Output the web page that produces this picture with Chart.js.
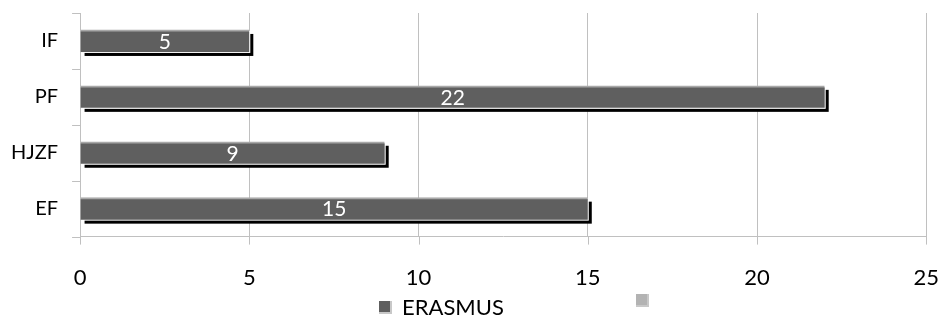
<!DOCTYPE html>
<html>
<head>
<meta charset="utf-8">
<script src="https://cdn.jsdelivr.net/npm/chart.js@4/dist/chart.umd.min.js"></script>
<style>
  body { margin: 0; background: #fff; }
  #wrap { position: relative; width: 939px; height: 319px; }
  #legend { position: absolute; left: 0; top: 294px; width: 939px; font-family: Lato, sans-serif; font-size: 22px; line-height: 26px; color: #000; }
  .item { position: absolute; top: 0; display: flex; align-items: center; }
  .box { width: 11px; height: 11px; margin-right: 10px; border-right: 2px solid #c8c8c8; border-bottom: 2px solid #c8c8c8; }
</style>
</head>
<body>
<div id="wrap">
  <canvas id="chart" width="939" height="319"></canvas>
  <div id="legend"></div>
</div>
<script>
// Données du graphique
const categories = ['IF', 'PF', 'HJZF', 'EF'];
const erasmusValues = [5, 22, 9, 15];
const secondValues = [];
const seriesLabels = ['ERASMUS', ''];
const seriesColors = ['#5f5f5f', '#b3b3b3'];
const xTicks = [0, 5, 10, 15, 20, 25];

const GRID = '#c0c0c0';

// Ombre noire décalée sous les barres (avec un liseré blanc)
const shadowPlugin = {
    id: 'barShadow',
    beforeDatasetsDraw(chart) {
        const ctx = chart.ctx;
        const meta = chart.getDatasetMeta(0);
        ctx.save();
        meta.data.forEach(bar => {
            const left = Math.min(bar.base, bar.x);
            const w = Math.abs(bar.x - bar.base);
            const top = bar.y - bar.height / 2;
            ctx.fillStyle = '#000';
            ctx.fillRect(left + 4, top + 4, w, bar.height);
            ctx.fillStyle = '#fff';
            ctx.fillRect(left + 1, top + 1, w, bar.height);
        });
        ctx.restore();
    }
};

// Petites graduations (8 px) sur les deux axes
const tickMarksPlugin = {
    id: 'tickMarks',
    afterDraw(chart) {
        const ctx = chart.ctx;
        const xs = chart.scales.x;
        const ys = chart.scales.y;
        const area = chart.chartArea;
        ctx.save();
        ctx.strokeStyle = GRID;
        ctx.lineWidth = 1;
        ctx.beginPath();
        xTicks.forEach(v => {
            const px = Math.round(xs.getPixelForValue(v)) + 0.5;
            ctx.moveTo(px, area.bottom);
            ctx.lineTo(px, area.bottom + 8);
        });
        for (let i = 0; i <= categories.length; i++) {
            const py = Math.round(ys.getPixelForValue(i - 0.5)) + 0.5;
            ctx.moveTo(area.left - 8, py);
            ctx.lineTo(area.left, py);
        }
        ctx.stroke();
        ctx.restore();
    }
};

// Valeurs affichées au centre des barres
const labelPlugin = {
    id: 'barLabels',
    afterDatasetsDraw(chart) {
        const ctx = chart.ctx;
        const meta = chart.getDatasetMeta(0);
        ctx.save();
        ctx.fillStyle = '#fff';
        ctx.font = '21px Lato, sans-serif';
        ctx.textAlign = 'center';
        ctx.textBaseline = 'middle';
        meta.data.forEach((bar, i) => {
            const x = (bar.x + bar.base) / 2;
            ctx.fillText(String(erasmusValues[i]), x, bar.y + 1);
        });
        ctx.restore();
    }
};

const chart = new Chart(document.getElementById('chart'), {
    type: 'bar',
    data: {
        labels: categories,
        datasets: [{
            label: seriesLabels[0],
            data: erasmusValues,
            backgroundColor: seriesColors[0],
            borderColor: '#a8a8a8',
            borderWidth: { top: 2, right: 0, bottom: 0, left: 0 },
            borderSkipped: false,
            barThickness: 22
        }, {
            label: seriesLabels[1],
            data: secondValues,
            backgroundColor: seriesColors[1],
            barThickness: 22
        }]
    },
    options: {
        indexAxis: 'y',
        responsive: false,
        animation: false,
        grouped: false,
        layout: { padding: { left: 11, right: 0, top: 13, bottom: 28 } },
        plugins: {
            legend: { display: false },
            tooltip: { enabled: false }
        },
        scales: {
            x: {
                min: 0,
                max: 25,
                afterBuildTicks(axis) {
                    axis.ticks = xTicks.map(v => ({ value: v }));
                },
                grid: { color: GRID, tickLength: 28, tickColor: 'rgba(0,0,0,0)' },
                border: { color: GRID },
                ticks: { color: '#000', font: { family: 'Lato', size: 22 }, padding: 0 }
            },
            y: {
                grid: { drawOnChartArea: false, tickLength: 22, tickColor: 'rgba(0,0,0,0)' },
                border: { color: GRID },
                ticks: { color: '#000', font: { family: 'Lato', size: 20 }, padding: 0 }
            }
        }
    },
    plugins: [shadowPlugin, labelPlugin, tickMarksPlugin]
});

// Légende HTML
const legend = document.getElementById('legend');
const legendX = [379, 636];
chart.data.datasets.forEach((ds, i) => {
    const item = document.createElement('div');
    item.className = 'item';
    item.style.left = legendX[i] + 'px';
    const box = document.createElement('span');
    box.className = 'box';
    box.style.background = ds.backgroundColor;
    const txt = document.createElement('span');
    txt.textContent = ds.label;
    item.appendChild(box);
    item.appendChild(txt);
    legend.appendChild(item);
});
</script>
</body>
</html>
